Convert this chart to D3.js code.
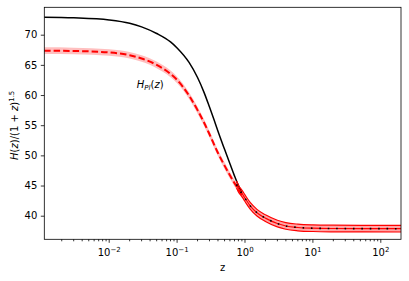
<!DOCTYPE html>
<html>
<meta charset="utf-8">
<head>
  <title>H(z)/(1+z)^1.5</title>
</head>

<style>
body { margin: 0; background: white; }
text {
  font-family: "DejaVu Sans", sans-serif;
  fill: black;
}
.axis text { font-size: 10px; }
.axis path, .axis line { stroke: black; stroke-width: 0.8; }
</style>

<body>
  <svg width="409" height="281"></svg>

  <script src="https://cdnjs.cloudflare.com/ajax/libs/d3/7.8.5/d3.min.js"></script>
  <script>
// black solid curve
var zBlack = [0.0011, 0.003, 0.01, 0.02, 0.03, 0.05, 0.08, 0.1, 0.15, 0.2, 0.25, 0.3, 0.35, 0.4, 0.5, 0.6, 0.7, 0.8, 0.9];
var hBlack = [72.9, 72.8, 72.45, 71.9, 71.3, 70.2, 68.8, 67.8, 65.4, 62.9, 60.4, 58.0, 55.9, 54.0, 51.0, 48.6, 46.6, 45.0, 43.8];

// H_Pl(z): red dashed with light band
var zPl = [0.0011, 0.003, 0.01, 0.02, 0.03, 0.05, 0.08, 0.1, 0.15, 0.2, 0.25, 0.3, 0.4, 0.5, 0.6, 0.7, 0.8, 0.9];
var hPl = [67.35, 67.3, 67.05, 66.6, 66.05, 65.0, 63.5, 62.5, 59.9, 57.5, 55.4, 53.5, 50.4, 48.3, 46.7, 45.4, 44.4, 43.5];
var errPl = [0.55, 0.55, 0.55, 0.55, 0.55, 0.55, 0.55, 0.55, 0.55, 0.55, 0.55, 0.55, 0.55, 0.55, 0.55, 0.55, 0.55, 0.55];

// high-z band with dotted black centre
var zBand = [0.75, 0.8, 0.9, 1.0, 1.2, 1.5, 2, 3, 4, 6, 10, 20, 50, 200];
var hBand = [45.2, 44.5, 43.7, 42.9, 41.6, 40.5, 39.6, 38.7, 38.3, 38.05, 37.93, 37.88, 37.86, 37.85];
var errBand = [0.55, 0.55, 0.55, 0.55, 0.55, 0.55, 0.55, 0.55, 0.55, 0.55, 0.55, 0.55, 0.55, 0.55];

var yTicks = [40, 45, 50, 55, 60, 65, 70];
var xTicks = [0.01, 0.1, 1, 10, 100];
var xTickExp = ['\u22122', '\u22121', '0', '1', '2'];

var margin = {top: 7.3, right: 8, bottom: 41.7, left: 44.3};
var width = 409 - margin.left - margin.right;
var height = 281 - margin.top - margin.bottom;

var svg = d3.select('svg');
var g = svg.append('g')
  .attr('transform', 'translate(' + margin.left + ',' + margin.top + ')');

var x = d3.scaleLog().domain([0.001107, 198.4]).range([0, width]);
var y = d3.scaleLinear().domain([36.09, 74.54]).range([height, 0]);

g.append('defs').append('clipPath').attr('id', 'clip')
  .append('rect').attr('width', width).attr('height', height);

var plot = g.append('g').attr('clip-path', 'url(#clip)');

function pts(zs, hs) {
  return zs.map(function(z, i) { return [z, hs[i]]; });
}

var line = d3.line()
  .x(function(d) { return x(d[0]); })
  .y(function(d) { return y(d[1]); })
  .curve(d3.curveMonotoneX);

var area = d3.area()
  .x(function(d) { return x(d[0]); })
  .y0(function(d) { return y(d[1] - d[2]); })
  .y1(function(d) { return y(d[1] + d[2]); })
  .curve(d3.curveMonotoneX);

var plData = zPl.map(function(z, i) { return [z, hPl[i], errPl[i]]; });
var bandData = zBand.map(function(z, i) { return [z, hBand[i], errBand[i]]; });

// light band for H_Pl
plot.append('path')
  .datum(plData)
  .attr('d', area)
  .attr('fill', 'rgba(255,0,0,0.25)');

// black solid
plot.append('path')
  .datum(pts(zBlack, hBlack))
  .attr('d', line)
  .attr('fill', 'none')
  .attr('stroke', 'black')
  .attr('stroke-width', 1.5);

// red dashed
plot.append('path')
  .datum(pts(zPl, hPl))
  .attr('d', line)
  .attr('fill', 'none')
  .attr('stroke', 'red')
  .attr('stroke-width', 2)
  .attr('stroke-dasharray', '6.5,3');

// high-z band
plot.append('path')
  .datum(bandData)
  .attr('d', area)
  .attr('fill', 'rgba(255,0,0,0.35)');

[-1, 1].forEach(function(s) {
  plot.append('path')
    .datum(bandData.map(function(d) { return [d[0], d[1] + s * d[2]]; }))
    .attr('d', line)
    .attr('fill', 'none')
    .attr('stroke', 'red')
    .attr('stroke-width', 1.2);
});

plot.append('path')
  .datum(pts(zBand, hBand))
  .attr('d', line)
  .attr('fill', 'none')
  .attr('stroke', 'red')
  .attr('stroke-width', 1.2);

plot.append('path')
  .datum(pts(zBand, hBand))
  .attr('d', line)
  .attr('fill', 'none')
  .attr('stroke', 'black')
  .attr('stroke-width', 1.6)
  .attr('stroke-dasharray', '1.6,6.8');

// axes
var minorTicks = [];
for (var e = -3; e <= 2; e++) {
  for (var m = 2; m <= 9; m++) {
    var v = m * Math.pow(10, e);
    if (v >= x.domain()[0] && v <= x.domain()[1]) minorTicks.push(v);
  }
}

var xAxis = g.append('g')
  .attr('class', 'axis')
  .attr('transform', 'translate(0,' + height + ')');

xAxis.selectAll('line.minor')
  .data(minorTicks)
  .enter().append('line')
  .attr('class', 'minor')
  .attr('x1', function(d) { return x(d); })
  .attr('x2', function(d) { return x(d); })
  .attr('y1', 0).attr('y2', 2)
  .attr('stroke-width', 0.6);

xAxis.selectAll('line.major')
  .data(xTicks)
  .enter().append('line')
  .attr('class', 'major')
  .attr('x1', function(d) { return x(d); })
  .attr('x2', function(d) { return x(d); })
  .attr('y1', 0).attr('y2', 3.5);

var xl = xAxis.selectAll('text.tick')
  .data(xTicks)
  .enter().append('text')
  .attr('class', 'tick')
  .attr('x', function(d) { return x(d); })
  .attr('y', 17)
  .attr('text-anchor', 'middle');
xl.append('tspan').text('10');
xl.append('tspan')
  .attr('dy', -4.5)
  .attr('font-size', '7px')
  .text(function(d, i) { return xTickExp[i]; });

var yAxis = g.append('g')
  .attr('class', 'axis')
  .call(d3.axisLeft(y).tickValues(yTicks).tickSize(3.5).tickPadding(3.5).tickFormat(d3.format('d')));
yAxis.select('.domain').remove();
yAxis.selectAll('text').style('font-family', '"DejaVu Sans", sans-serif').style('font-size', '10px');

// frame
g.append('rect')
  .attr('width', width)
  .attr('height', height)
  .attr('fill', 'none')
  .attr('stroke', 'black')
  .attr('stroke-width', 0.8);

// axis labels
g.append('text')
  .attr('x', width / 2)
  .attr('y', height + 32)
  .attr('text-anchor', 'middle')
  .style('font-size', '10px')
  .text('z');

var yl = g.append('text')
  .attr('transform', 'translate(' + (18 - margin.left) + ',' + (height / 2 + 2) + ') rotate(-90)')
  .attr('text-anchor', 'middle')
  .style('font-size', '10px');
yl.append('tspan').attr('font-style', 'italic').text('H');
yl.append('tspan').text('(');
yl.append('tspan').attr('font-style', 'italic').text('z');
yl.append('tspan').text(')/(1 + ');
yl.append('tspan').attr('font-style', 'italic').text('z');
yl.append('tspan').text(')');
yl.append('tspan').attr('dy', -4.5).attr('font-size', '7px').text('1.5');

// curve label
var lab = g.append('text')
  .attr('x', x(0.0255))
  .attr('y', y(61.1))
  .style('font-size', '10px');
lab.append('tspan').attr('font-style', 'italic').text('H');
lab.append('tspan').attr('font-style', 'italic').attr('font-size', '7px').attr('dy', 2).text('Pl');
lab.append('tspan').attr('dy', -2).text('(');
lab.append('tspan').attr('font-style', 'italic').text('z');
lab.append('tspan').text(')');
  </script>
</body>
</html>
